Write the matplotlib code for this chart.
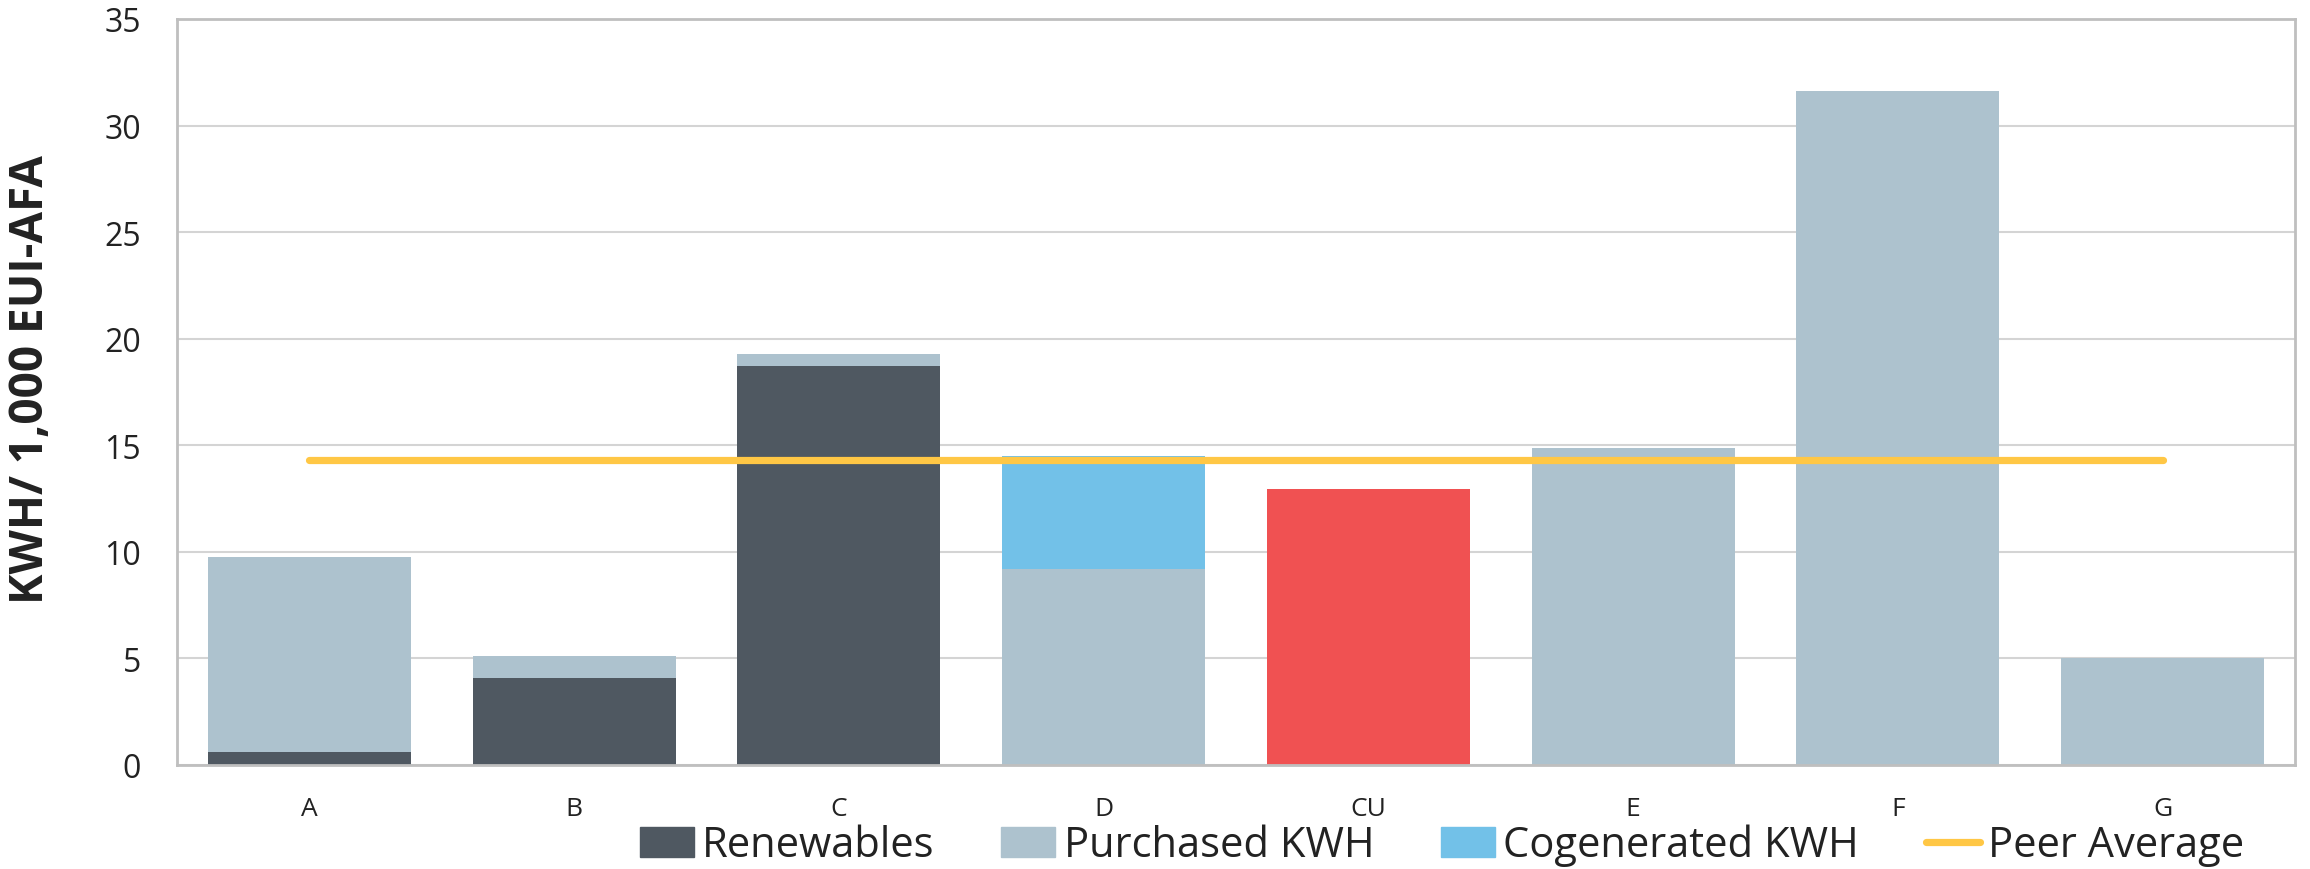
import matplotlib
matplotlib.use("Agg")
import matplotlib.pyplot as plt
from matplotlib.patches import Patch
from matplotlib.lines import Line2D

plt.rcParams['font.family'] = ['Open Sans', 'DejaVu Sans']

categories = ["A", "B", "C", "D", "CU", "E", "F", "G"]
renewables = [0.63, 4.09, 18.70, 0.0, 0.0, 0.0, 0.0, 0.0]
purchased = [9.15, 1.04, 0.56, 9.20, 12.93, 14.89, 31.6, 5.04]
cogenerated = [0.0, 0.0, 0.0, 5.30, 0.0, 0.0, 0.0, 0.0]
peer_average = 14.32
y_ticks = [0, 5, 10, 15, 20, 25, 30, 35]

c_ren = "#4F5861"
c_pur = "#ADC2CE"
c_cog = "#72C1E8"
c_cu = "#F05152"
c_peer = "#FFC745"

fig = plt.figure(figsize=(23.1, 8.7), dpi=100)
ax = fig.add_axes([177/2310, 104/870, (2295-177)/2310, (766-20)/870])

x = list(range(len(categories)))
w = 0.766
pur_colors = [c_cu if c == "CU" else c_pur for c in categories]
ax.bar(x, renewables, width=w, color=c_ren, zorder=2)
ax.bar(x, purchased, width=w, bottom=renewables, color=pur_colors, zorder=2)
bot2 = [r + p for r, p in zip(renewables, purchased)]
ax.bar(x, cogenerated, width=w, bottom=bot2, color=c_cog, zorder=2)
ax.plot([x[0], x[-1]], [peer_average, peer_average], color=c_peer, lw=5.2,
        solid_capstyle='round', zorder=3)

ax.set_xlim(-0.5, len(categories) - 0.5)
ax.set_ylim(0, 35)
ax.set_yticks(y_ticks)
ax.set_xticks(x)
ax.set_xticklabels(categories)
ax.grid(axis='y', color="#D4D4D4", lw=1.5, zorder=0)
ax.set_axisbelow(True)
for s in ax.spines.values():
    s.set_color("#BFBFBF")
    s.set_linewidth(2)
ax.tick_params(axis='y', length=0, pad=26, labelsize=23, labelcolor="#222222")
ax.tick_params(axis='x', length=0, pad=22, labelsize=19, labelcolor="#222222")

fig.text(31/2310, 1 - 380/870, "KWH/ 1,000 EUI-AFA", rotation=90, ha='center',
         va='center', fontsize=33, fontweight='bold', color="#222222")

handles = [Patch(color=c_ren), Patch(color=c_pur), Patch(color=c_cog),
           Line2D([0], [0], color=c_peer, lw=5.2, solid_capstyle='round')]
labels = ["Renewables", "Purchased KWH", "Cogenerated KWH", "Peer Average"]
fig.legend(handles, labels, ncol=4, loc='center',
           bbox_to_anchor=(1442/2310, 1 - 846/870), frameon=False,
           fontsize=30, handlelength=1.3, handleheight=0.72,
           handletextpad=0.2, columnspacing=1.6, labelcolor="#222222",
           borderpad=0, borderaxespad=0)

fig.savefig("out.png", dpi=100)
